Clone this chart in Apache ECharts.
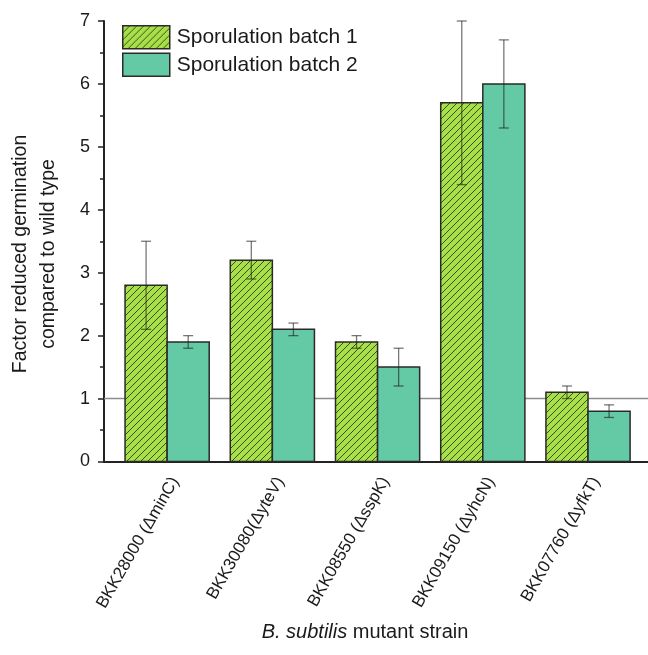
<!DOCTYPE html>
<html>
<head>
<meta charset="utf-8">
<script src="https://cdn.jsdelivr.net/npm/echarts@6/dist/echarts.min.js"></script>
<style>
  html, body { margin: 0; padding: 0; background: #fff; }
  #chart { width: 648px; height: 655px; }
</style>
</head>
<body>
<div id="chart"></div>
<script>
// Germination defect of B. subtilis mutant strains, two sporulation batches
const categories = [
  'BKK28000 (\u0394minC)',
  'BKK30080(\u0394yteV)',
  'BKK08550 (\u0394sspK)',
  'BKK09150 (\u0394yhcN)',
  'BKK07760 (\u0394yfkT)'
];
const seriesNames = ['Sporulation batch 1', 'Sporulation batch 2'];
const batch1 = [2.8, 3.2, 1.9, 5.7, 1.1];
const batch1Err = [0.7, 0.3, 0.1, 1.3, 0.1];
const batch2 = [1.9, 2.1, 1.5, 6.0, 0.8];
const batch2Err = [0.1, 0.1, 0.3, 0.7, 0.1];
const yTicks = [0, 1, 2, 3, 4, 5, 6, 7];
const wildTypeLevel = 1;

// category centres along the value x axis
const xMin = 0, xMax = 5.17;
const catOffset = 0.6;
const catPos = categories.map((c, i) => i + catOffset);
const barSpan = 0.4;
// rotated labels sit a little to the right of each group centre
const labelShift = 0.075;
const labelPos = catPos.map(p => p + labelShift);

const FONT = 'Arial, "Liberation Sans", sans-serif';
const TEXT = '#1a1a1a';
const LIME = '#a8e04a';
const TEAL = '#64c9a5';
const EDGE = '#2a2a2a';

// diagonal hatch fill for batch 1
function makeHatch() {
  const s = 7;
  const c = document.createElement('canvas');
  c.width = s; c.height = s;
  const g = c.getContext('2d');
  g.fillStyle = LIME;
  g.fillRect(0, 0, s, s);
  g.strokeStyle = '#2f3d10';
  g.lineWidth = 0.9;
  g.beginPath();
  g.moveTo(-1, s + 1); g.lineTo(s + 1, -1);
  g.moveTo(-1, 1); g.lineTo(1, -1);
  g.moveTo(s - 1, s + 1); g.lineTo(s + 1, s - 1);
  g.stroke();
  return c;
}
const hatch = { image: makeHatch(), repeat: 'repeat' };

function barRenderer(side) {
  return function (params, api) {
    const x = api.value(0);
    const v = api.value(1);
    const x0 = side === 0 ? x - barSpan : x;
    const x1 = side === 0 ? x : x + barSpan;
    const p0 = api.coord([x0, v]);
    const p1 = api.coord([x1, 0]);
    return {
      type: 'rect',
      shape: { x: p0[0], y: p0[1], width: p1[0] - p0[0], height: p1[1] - p0[1] },
      style: { fill: side === 0 ? hatch : TEAL, stroke: EDGE, lineWidth: 1.5 }
    };
  };
}

function errRenderer(side) {
  return function (params, api) {
    const x = api.value(0) + (side === 0 ? -barSpan / 2 : barSpan / 2);
    const v = api.value(1);
    const e = api.value(2);
    const top = api.coord([x, v + e]);
    const bot = api.coord([x, v - e]);
    const cap = 5;
    const st = { stroke: 'rgba(30,30,30,0.6)', lineWidth: 1.3 };
    return {
      type: 'group',
      children: [
        { type: 'line', shape: { x1: top[0], y1: top[1], x2: bot[0], y2: bot[1] }, style: st },
        { type: 'line', shape: { x1: top[0] - cap, y1: top[1], x2: top[0] + cap, y2: top[1] }, style: st },
        { type: 'line', shape: { x1: bot[0] - cap, y1: bot[1], x2: bot[0] + cap, y2: bot[1] }, style: st }
      ]
    };
  };
}

// horizontal wild-type reference across the whole plot, behind the bars
function refRenderer(params, api) {
  const a = api.coord([xMin, api.value(1)]);
  const b = api.coord([xMax, api.value(1)]);
  return {
    type: 'line',
    shape: { x1: a[0], y1: a[1], x2: b[0], y2: b[1] },
    style: { stroke: '#8c8c8c', lineWidth: 1.5 }
  };
}

const chart = echarts.init(document.getElementById('chart'), null, { renderer: 'canvas' });

chart.setOption({
  animation: false,
  backgroundColor: '#fff',
  grid: { left: 104, right: 0, top: 21, bottom: 193.5, containLabel: false },
  legend: {
    orient: 'vertical',
    left: 122,
    top: 25,
    padding: 0,
    itemWidth: 47,
    itemHeight: 23,
    itemGap: 3,
    icon: 'rect',
    textStyle: { fontFamily: FONT, fontSize: 21, color: TEXT, padding: [0, 0, 0, 2] },
    data: [
      { name: seriesNames[0], itemStyle: { color: hatch, borderColor: EDGE, borderWidth: 1.5 } },
      { name: seriesNames[1], itemStyle: { color: TEAL, borderColor: EDGE, borderWidth: 1.5 } }
    ]
  },
  xAxis: {
    type: 'value',
    min: xMin,
    max: xMax,
    splitLine: { show: false },
    axisLine: { show: true, onZero: false, lineStyle: { color: '#222', width: 2 } },
    axisTick: { show: false },
    axisLabel: {
      customValues: labelPos,
      rotate: 60,
      margin: 17,
      fontFamily: FONT,
      fontSize: 17,
      color: TEXT,
      formatter: function (v) { return categories[Math.round(v - catOffset - labelShift)] || ''; }
    }
  },
  yAxis: {
    type: 'value',
    min: yTicks[0],
    max: yTicks[yTicks.length - 1],
    interval: 1,
    splitLine: { show: false },
    axisLine: { show: true, lineStyle: { color: '#222', width: 2 } },
    axisTick: { show: true, length: 6, lineStyle: { color: '#222', width: 1.5 } },
    minorTick: { show: true, splitNumber: 2, length: 4, lineStyle: { color: '#222', width: 1.5 } },
    axisLabel: { fontFamily: FONT, fontSize: 18, color: TEXT, margin: 14 }
  },
  graphic: [
    {
      type: 'text',
      x: 35, y: 254,
      rotation: Math.PI / 2,
      style: {
        text: 'Factor reduced germination\ncompared to wild type',
        font: '19.5px ' + FONT,
        fill: TEXT,
        align: 'center',
        verticalAlign: 'middle',
        lineHeight: 28
      }
    },
    {
      type: 'text',
      x: 365, y: 632,
      style: {
        text: '{i|B. subtilis} mutant strain',
        font: '20px ' + FONT,
        fill: TEXT,
        align: 'center',
        verticalAlign: 'middle',
        rich: {
          i: { fontStyle: 'italic', fontSize: 20, fontFamily: FONT, fill: TEXT }
        }
      }
    }
  ],
  series: [
    {
      name: 'wild type level',
      type: 'custom',
      z: 1,
      silent: true,
      renderItem: refRenderer,
      encode: { x: 0, y: 1 },
      data: [[xMin, wildTypeLevel]]
    },
    {
      name: seriesNames[0],
      type: 'custom',
      z: 3,
      itemStyle: { color: hatch },
      renderItem: barRenderer(0),
      encode: { x: 0, y: 1 },
      data: catPos.map((p, i) => [p, batch1[i]])
    },
    {
      name: seriesNames[1],
      type: 'custom',
      z: 3,
      itemStyle: { color: TEAL },
      renderItem: barRenderer(1),
      encode: { x: 0, y: 1 },
      data: catPos.map((p, i) => [p, batch2[i]])
    },
    {
      name: 'err1',
      type: 'custom',
      z: 5,
      renderItem: errRenderer(0),
      encode: { x: 0, y: 1 },
      data: catPos.map((p, i) => [p, batch1[i], batch1Err[i]])
    },
    {
      name: 'err2',
      type: 'custom',
      z: 5,
      renderItem: errRenderer(1),
      encode: { x: 0, y: 1 },
      data: catPos.map((p, i) => [p, batch2[i], batch2Err[i]])
    }
  ]
});
</script>
</body>
</html>
